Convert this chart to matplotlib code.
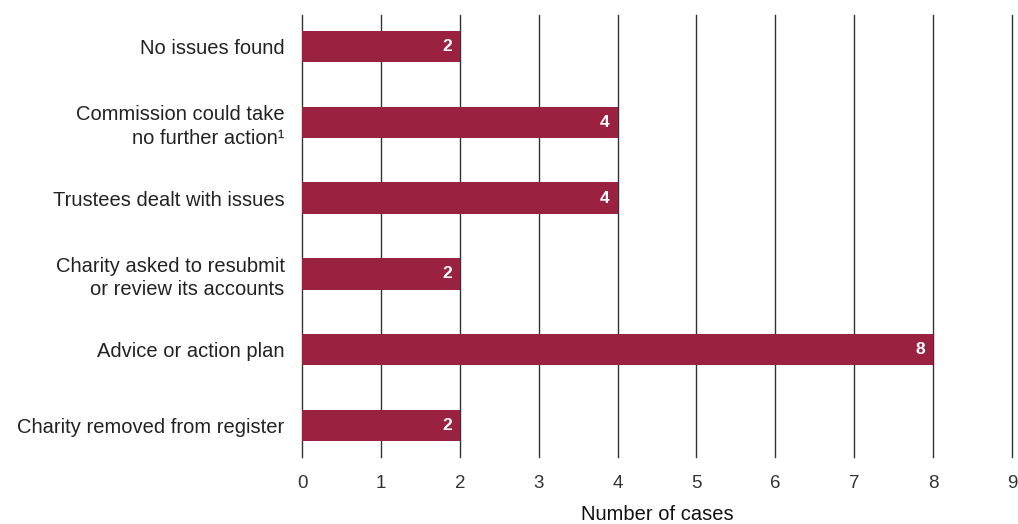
import matplotlib
matplotlib.use("Agg")
import matplotlib.pyplot as plt

categories = [
    "No issues found",
    "Commission could take\nno further action\u00b9",
    "Trustees dealt with issues",
    "Charity asked to resubmit\nor review its accounts",
    "Advice or action plan",
    "Charity removed from register",
]
values = [2, 4, 4, 2, 8, 2]
xticks = list(range(0, 10))

plt.rcParams['font.family'] = ['Liberation Sans', 'DejaVu Sans']

fig = plt.figure(figsize=(10.18, 5.24), dpi=100)
ax = fig.add_axes([302/1018, 1-457/524, 710/1018, 442/524])

bar_color = "#9B2140"
pos = list(range(len(categories)))
ax.barh(pos, values, height=0.41, color=bar_color, zorder=3)
for p, v in zip(pos, values):
    ax.text(v - 0.1, p, str(v), color="white", ha="right", va="center",
            fontsize=12.5, fontweight="bold", zorder=4)

ax.set_ylim(len(categories) - 0.59, -0.41)
ax.set_xlim(0, 9)
ax.set_xticks(xticks)
ax.set_yticks(pos)
ax.set_yticklabels(categories, fontsize=14.5, color="#222222", linespacing=1.3)
ax.tick_params(axis="x", labelsize=13.5, colors="#333333", length=0, pad=13)
ax.tick_params(axis="y", length=0, pad=12.5)
for lab in ax.get_yticklabels():
    lab.set_ha("right")
ax.grid(axis="x", color="#333333", linewidth=1.0, zorder=0)
for gl in ax.get_xgridlines():
    gl.set_clip_on(False)
for s in ax.spines.values():
    s.set_visible(False)
ax.set_xlabel("Number of cases", fontsize=14.5, color="#111111", labelpad=9)

fig.savefig("out.png", dpi=100)
